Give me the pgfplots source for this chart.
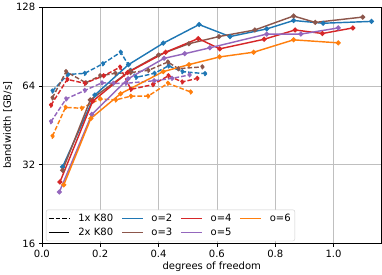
\documentclass[border=0pt]{standalone}
\usepackage{fontspec}
\setmainfont{DejaVu Sans}
\usepackage{pgfplots}
\pgfplotsset{compat=1.18}
\definecolor{tblue}{HTML}{1F77B4}
\definecolor{tbrown}{HTML}{8C564B}
\definecolor{tred}{HTML}{D62728}
\definecolor{tpurple}{HTML}{9467BD}
\definecolor{torange}{HTML}{FF7F0E}
\begin{document}
\fontsize{9.8}{11.8}\selectfont
\begin{tikzpicture}
\begin{axis}[
  scale only axis, width=332pt, height=231pt,
  xmin=0, xmax=1.165,
  ymode=log, log basis y=2,
  ymin=16, ymax=128,
  ytick={16,32,64,128}, yticklabels={16,32,64,128},
  xtick={0,0.2,0.4,0.6,0.8,1.0},
  xticklabels={0.0,0.2,0.4,0.6,0.8,1.0},
  /pgf/number format/assume math mode=true,
  tick align=outside, tick pos=left,
  major tick length=3pt,
  tick style={black, line width=0.6pt},
  axis line style={black, line width=0.6pt},
  grid=major, grid style={color=black!25, line width=0.6pt},
  xlabel={degrees of freedom}, ylabel={bandwidth [GB/s]},
  xlabel style={yshift=3pt}, ylabel style={yshift=-3pt},
  every axis plot/.append style={line width=1.4pt, mark=*, mark size=1.7pt},
  legend columns=4,
  legend style={at={(0.012,0.01)}, anchor=south west, draw=black!20, rounded corners=2pt,
    font=\fontsize{9.8}{11.8}\selectfont, column sep=6pt, row sep=1pt, inner sep=2pt},
  legend cell align=left,
  legend image code/.code={\draw[#1, mark=none] (0pt,0pt) -- (20pt,0pt);},
]
\addlegendimage{black, line width=1.4pt, dash pattern=on 4.5pt off 2pt}
\addlegendentry{1x K80}
\addlegendimage{tblue, line width=1.4pt}
\addlegendentry{o=2}
\addlegendimage{tred, line width=1.4pt}
\addlegendentry{o=4}
\addlegendimage{torange, line width=1.4pt}
\addlegendentry{o=6}
\addlegendimage{black, line width=1.4pt}
\addlegendentry{2x K80}
\addlegendimage{tbrown, line width=1.4pt}
\addlegendentry{o=3}
\addlegendimage{tpurple, line width=1.4pt}
\addlegendentry{o=5}

% dashed: 1x K80
\addplot[tblue, dash pattern=on 4.5pt off 2pt, forget plot] coordinates {
(0.036,61.2) (0.089,70.8) (0.147,71.5) (0.209,77.8) (0.270,86.1) (0.323,69.0) (0.386,71.5) (0.434,76.4) (0.481,72.6) (0.559,71.3)};
\addplot[tbrown, dash pattern=on 4.5pt off 2pt, forget plot] coordinates {
(0.036,57.6) (0.083,72.6) (0.151,65.8) (0.200,70.0) (0.252,71.5) (0.304,72.0) (0.365,73.4) (0.432,79.0) (0.468,74.5) (0.550,75.7)};
\addplot[tred, dash pattern=on 4.5pt off 2pt, forget plot] coordinates {
(0.031,54.0) (0.087,67.8) (0.147,65.5) (0.212,70.0) (0.268,75.5) (0.305,62.1) (0.381,64.8) (0.434,70.0) (0.481,66.3) (0.533,68.4)};
\addplot[tpurple, dash pattern=on 4.5pt off 2pt, forget plot] coordinates {
(0.031,46.7) (0.083,57.1) (0.147,61.5) (0.206,65.8) (0.245,65.5) (0.288,65.5) (0.385,67.0) (0.446,68.4) (0.506,70.5)};
\addplot[torange, dash pattern=on 4.5pt off 2pt, forget plot] coordinates {
(0.036,41.1) (0.081,53.0) (0.136,52.6) (0.200,57.1) (0.253,56.6) (0.305,58.5) (0.364,58.5) (0.432,65.5) (0.510,60.7)};

% solid: 2x K80
\addplot[tblue, forget plot] coordinates {
(0.071,31.4) (0.182,59.1) (0.297,77.2) (0.416,93.2) (0.539,109.8) (0.645,98.8) (0.771,105.7) (0.863,113.8) (0.964,111.1) (1.130,112.9)};
\addplot[tbrown, forget plot] coordinates {
(0.071,30.5) (0.166,56.6) (0.302,73.0) (0.400,84.0) (0.504,92.8) (0.607,98.8) (0.730,104.7) (0.863,118.4) (0.937,111.9) (1.100,117.3)};
\addplot[tred, forget plot] coordinates {
(0.062,27.5) (0.174,55.9) (0.294,72.0) (0.424,86.1) (0.536,97.1) (0.610,88.7) (0.762,96.5) (0.868,104.7) (0.962,101.5) (1.066,106.6)};
\addplot[tpurple, forget plot] coordinates {
(0.060,25.2) (0.171,49.8) (0.296,68.2) (0.419,81.6) (0.490,85.0) (0.576,89.5) (0.771,101.0) (0.888,101.0) (1.016,106.6)};
\addplot[torange, forget plot] coordinates {
(0.075,26.8) (0.168,48.1) (0.270,59.8) (0.416,72.6) (0.504,77.2) (0.609,82.6) (0.726,86.1) (0.863,96.0) (1.016,93.5)};

\node[anchor=north east, inner sep=0pt] at ([yshift=-16pt]rel axis cs:1,0) {1e9};
\end{axis}
\end{tikzpicture}
\end{document}
